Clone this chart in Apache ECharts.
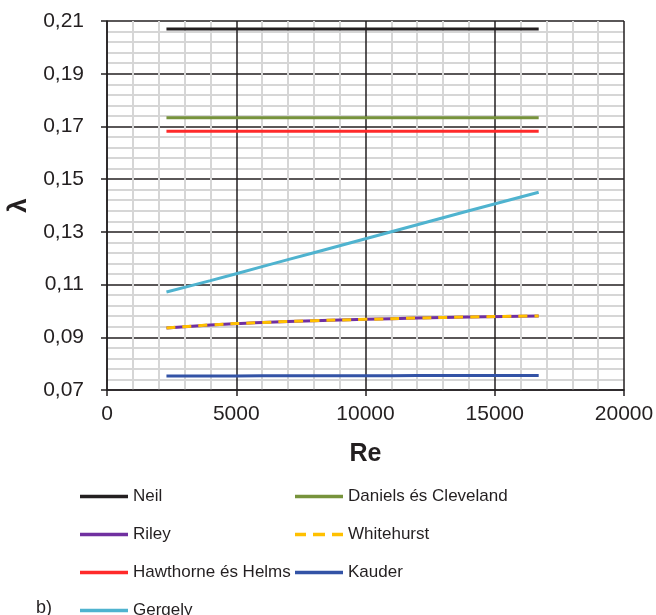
<!DOCTYPE html>
<html>
<head>
<meta charset="utf-8">
<script src="https://cdn.jsdelivr.net/npm/echarts@6/dist/echarts.min.js"></script>
<style>
  html, body { margin: 0; padding: 0; background: #fff; }
  #chart { width: 656px; height: 615px; }
</style>
</head>
<body>
<div id="chart"></div>
<script>
// Re values where the curves were read
var reValues = [2300, 4000, 6000, 8000, 10000, 12000, 14000, 16700];

var neil       = [0.207, 0.207, 0.207, 0.207, 0.207, 0.207, 0.207, 0.207];
var daniels    = [0.1733, 0.1733, 0.1733, 0.1733, 0.1733, 0.1733, 0.1733, 0.1733];
var riley      = [0.0935, 0.0947, 0.0956, 0.0963, 0.0968, 0.0973, 0.0977, 0.0981];
var whitehurst = [0.0935, 0.0947, 0.0956, 0.0963, 0.0968, 0.0973, 0.0977, 0.0981];
var hawthorne  = [0.1682, 0.1682, 0.1682, 0.1682, 0.1682, 0.1682, 0.1682, 0.1682];
var kauder     = [0.0753, 0.0753, 0.0754, 0.0754, 0.0754, 0.0755, 0.0755, 0.0755];
var gergely    = [0.1072, 0.1115, 0.1168, 0.1221, 0.1274, 0.1327, 0.1380, 0.1450];

var yTicks = [0.07, 0.09, 0.11, 0.13, 0.15, 0.17, 0.19, 0.21];
var xTicks = [0, 5000, 10000, 15000, 20000];

// legend layout: [name, left, row]
var legendItems = [
    ['Neil', 80, 0], ['Daniels és Cleveland', 295, 0],
    ['Riley', 80, 1], ['Whitehurst', 295, 1],
    ['Hawthorne és Helms', 80, 2], ['Kauder', 295, 2],
    ['Gergely', 80, 3]
];

var solidIcon = 'path://M0,0h48v3.5h-48z';
var dashIcon = 'path://M0,0h11v3.5h-11zM18,0h12v3.5h-12zM37,0h11v3.5h-11z';

function pairs(ys) {
    var out = [];
    for (var i = 0; i < reValues.length; i++) {
        out.push([reValues[i], ys[i]]);
    }
    return out;
}

function line(name, ys, color, dashed) {
    return {
        name: name,
        type: 'line',
        data: pairs(ys),
        symbol: 'none',
        smooth: true,
        animation: false,
        lineStyle: { color: color, width: 3, type: dashed ? [9, 7] : 'solid' },
        itemStyle: { color: color }
    };
}

var textColor = '#231f20';
var font = 'Liberation Sans, Arial, sans-serif';

var legends = [];
for (var i = 0; i < legendItems.length; i++) {
    var nm = legendItems[i][0];
    legends.push({
        left: legendItems[i][1],
        top: 488 + legendItems[i][2] * 38,
        padding: 0,
        itemWidth: 48,
        itemHeight: 18,
        itemGap: 4,
        textStyle: { fontSize: 17, color: textColor, fontFamily: font },
        selectedMode: false,
        data: [{ name: nm, icon: nm === 'Whitehurst' ? dashIcon : solidIcon }]
    });
}

var myChart = echarts.init(document.getElementById('chart'));
var option = {
    backgroundColor: '#fff',
    animation: false,
    grid: { left: 107, right: 32, top: 21, bottom: 225, outerBoundsMode: 'none', containLabel: false },
    legend: legends,
    graphic: [{
        type: 'text',
        left: 36,
        top: 599,
        style: { text: 'b)', fontSize: 18, fill: textColor, fontFamily: font }
    }],
    xAxis: {
        type: 'value',
        min: 0,
        max: 20000,
        interval: 5000,
        name: 'Re',
        nameLocation: 'middle',
        nameGap: 52,
        nameTextStyle: { fontSize: 25, fontWeight: 'bold', color: textColor, fontFamily: font },
        axisLine: { show: true, lineStyle: { color: textColor, width: 1.5 } },
        axisTick: { show: true, inside: false, length: 6, lineStyle: { color: textColor, width: 1.5 } },
        axisLabel: {
            fontSize: 21, color: textColor, margin: 14, fontFamily: font,
            formatter: function (v) { return String(v); }
        },
        splitLine: { show: true, lineStyle: { color: textColor, width: 1.5 } },
        minorTick: { show: false, splitNumber: 5 },
        minorSplitLine: { show: true, lineStyle: { color: '#d6d6d6', width: 2 } }
    },
    yAxis: {
        type: 'value',
        min: 0.07,
        max: 0.21,
        interval: 0.02,
        name: 'λ',
        nameLocation: 'middle',
        nameRotate: 90,
        nameGap: 73,
        nameTextStyle: { fontSize: 26, fontWeight: 'bold', color: textColor, fontFamily: font },
        axisLine: { show: true, lineStyle: { color: textColor, width: 1.5 } },
        axisTick: { show: true, inside: false, length: 6, lineStyle: { color: textColor, width: 1.5 } },
        axisLabel: {
            fontSize: 21, color: textColor, margin: 23, fontFamily: font,
            formatter: function (v) { return v.toFixed(2).replace('.', ','); }
        },
        splitLine: { show: true, lineStyle: { color: textColor, width: 1.5 } },
        minorTick: { show: false, splitNumber: 5 },
        minorSplitLine: { show: true, lineStyle: { color: '#d6d6d6', width: 2 } }
    },
    series: [
        line('Neil', neil, '#231f20'),
        line('Daniels és Cleveland', daniels, '#77933c'),
        line('Riley', riley, '#7030a0'),
        line('Whitehurst', whitehurst, '#ffc000', true),
        line('Hawthorne és Helms', hawthorne, '#ff2a2a'),
        line('Kauder', kauder, '#3353a6'),
        line('Gergely', gergely, '#4fb3cf')
    ]
};

myChart.setOption(option);
</script>
</body>
</html>
